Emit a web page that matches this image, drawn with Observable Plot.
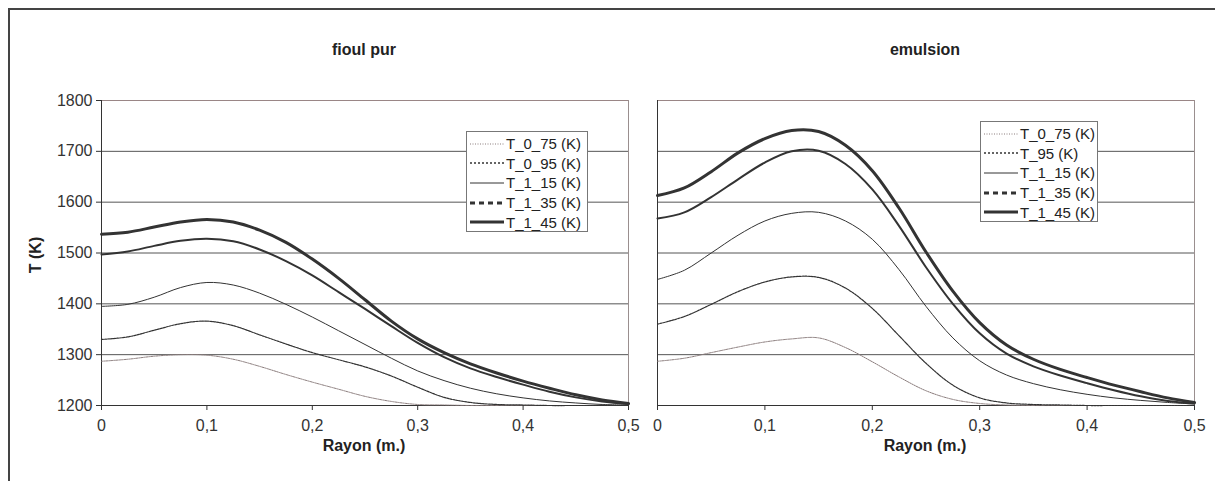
<!DOCTYPE html>
<html><head><meta charset="utf-8">
<script src="https://cdn.jsdelivr.net/npm/d3@7"></script>
<script src="https://cdn.jsdelivr.net/npm/@observablehq/plot@0.6"></script>
<style>
body{margin:0;background:#fff;overflow:hidden;}
#wrap{position:relative;width:1215px;height:481px;overflow:hidden;font-family:"Liberation Sans",Arial,sans-serif;color:#222;}
.frame{position:absolute;left:8px;top:8px;width:1240px;height:520px;border:2px solid #444;box-sizing:border-box;}
.txt{position:absolute;font-weight:bold;font-size:16px;transform:translate(-50%,-50%);white-space:nowrap;}
.chart{position:absolute;top:0;}
.legend{position:absolute;background:#fff;border:1px solid #777;box-sizing:border-box;padding:2px 0 0 3px;font-size:15px;color:#222;}
.legend .row{height:19.6px;display:flex;align-items:center;white-space:nowrap;}
.legend svg{margin-right:2px;}
</style></head>
<body><div id="wrap"><div class="frame"></div></div>
<script>
// ---- data ----
const radius = [0,0.025,0.05,0.075,0.1,0.125,0.15,0.175,0.2,0.225,0.25,0.275,0.3,0.325,0.35,0.375,0.4,0.425,0.45,0.475,0.5];
// fioul pur
const fioul_T_0_75 = [1287,1291,1297,1300,1299,1291,1277,1261,1246,1232,1218,1208,1202,1201,1200,1200,1200,1200,1200,1200,1200];
const fioul_T_0_95 = [1330,1335,1348,1361,1366,1357,1339,1321,1304,1290,1276,1258,1236,1216,1206,1202,1201,1200,1200,1200,1200];
const fioul_T_1_15 = [1395,1399,1413,1432,1442,1437,1421,1399,1374,1347,1320,1293,1268,1249,1234,1223,1215,1209,1205,1202,1201];
const fioul_T_1_35 = [1497,1503,1514,1524,1528,1523,1507,1484,1456,1423,1390,1356,1323,1295,1273,1256,1241,1227,1216,1208,1203];
const fioul_T_1_45 = [1537,1541,1551,1561,1566,1561,1545,1521,1488,1450,1408,1366,1331,1304,1282,1264,1248,1234,1221,1211,1204];
// emulsion
const emul_T_0_75 = [1287,1293,1304,1315,1325,1331,1333,1314,1286,1256,1229,1212,1204,1201,1200,1200,1200,1200,1200,1200,1200];
const emul_T_95   = [1360,1375,1399,1424,1443,1453,1452,1431,1391,1337,1283,1240,1215,1205,1202,1201,1200,1200,1200,1200,1200];
const emul_T_1_15 = [1448,1466,1500,1535,1563,1578,1580,1563,1527,1467,1395,1333,1288,1260,1243,1231,1222,1215,1210,1206,1203];
const emul_T_1_35 = [1568,1580,1610,1645,1678,1700,1701,1675,1625,1553,1472,1400,1342,1302,1277,1259,1244,1230,1218,1209,1204];
const emul_T_1_45 = [1613,1628,1660,1697,1725,1741,1739,1712,1662,1588,1502,1425,1363,1319,1291,1271,1255,1240,1227,1215,1206];

const xTicks = [0,0.1,0.2,0.3,0.4,0.5];
const yTicks = [1200,1300,1400,1500,1600,1700,1800];
const fioulNames = ["T_0_75 (K)","T_0_95 (K)","T_1_15 (K)","T_1_35 (K)","T_1_45 (K)"];
const emulNames  = ["T_0_75 (K)","T_95 (K)","T_1_15 (K)","T_1_35 (K)","T_1_45 (K)"];

// styles per series index
const styles = [
  {stroke:"#8a7c7c", w:1, dash:"1.5,1", legDash:"1,1.5", legW:1},
  {stroke:"#333", w:1.2, dash:"2,1", legDash:"2,2", legW:1.6},
  {stroke:"#333", w:1, dash:null, legDash:null, legW:1},
  {stroke:"#333", w:2, dash:null, legDash:"5,4", legW:3},
  {stroke:"#333", w:3, dash:null, legDash:null, legW:3}
];

function rows(series){
  const out=[];
  series.forEach((vals,i)=>vals.forEach((v,j)=>out.push({s:i,x:radius[j],y:v})));
  return out;
}
const fmt = d => String(d).replace(".",",");

function makePlot(series, showY, opts){
  const data = rows(series);
  const marks = [
    Plot.ruleY(yTicks,{stroke:d=>d===1800?"#9a8686":"#555",strokeWidth:1}),
    Plot.ruleX([0.5],{stroke:"#9a8f8f"}),
    Plot.ruleX([0],{stroke:"#333"}),
    Plot.ruleY([1200],{stroke:"#333"})
  ];
  styles.forEach((st,i)=>{
    marks.push(Plot.line(data.filter(d=>d.s===i),{x:"x",y:"y",stroke:st.stroke,strokeWidth:st.w,strokeDasharray:st.dash||undefined,curve:"catmull-rom"}));
  });
  marks.push(Plot.axisX(xTicks,{tickFormat:fmt,tickSize:5,tickPadding:9,stroke:"#333",fill:"#333",label:null}));
  if(showY) marks.push(Plot.axisY(yTicks,{tickFormat:d=>String(d),tickSize:5,tickPadding:4,stroke:"#333",fill:"#333",label:null}));
  return Plot.plot({
    width:opts.width, height:481,
    marginTop:100, marginBottom:76, marginLeft:opts.ml, marginRight:opts.mr,
    x:{domain:[0,0.5]}, y:{domain:[1200,1800], axis: showY ? undefined : null},
    style:{fontSize:"16px",fontFamily:"'Liberation Sans',Arial,sans-serif",background:"transparent",overflow:"visible"},
    marks
  });
}

const wrap = document.getElementById("wrap");
function place(el,left){ el.classList.add("chart"); el.style.left=left+"px"; wrap.appendChild(el); }
place(makePlot([fioul_T_0_75,fioul_T_0_95,fioul_T_1_15,fioul_T_1_35,fioul_T_1_45],true,{width:640,ml:101,mr:12}),0);
place(makePlot([emul_T_0_75,emul_T_95,emul_T_1_15,emul_T_1_35,emul_T_1_45],false,{width:585,ml:27,mr:21}),630);

function text(t,x,y,rot){
  const d=document.createElement("div"); d.className="txt"; d.textContent=t;
  d.style.left=x+"px"; d.style.top=y+"px";
  if(rot) d.style.transform="translate(-50%,-50%) rotate(-90deg)";
  wrap.appendChild(d);
}
text("fioul pur",364,50); text("emulsion",925,50);
text("Rayon (m.)",364,446); text("Rayon (m.)",925,446);
text("T (K)",36,255,true);

function legend(names,left,top,width,height){
  const L=document.createElement("div"); L.className="legend";
  Object.assign(L.style,{left:left+"px",top:top+"px",width:width+"px",height:height+"px"});
  names.forEach((n,i)=>{
    const st=styles[i];
    const r=document.createElement("div"); r.className="row";
    r.innerHTML=`<svg width="34" height="10"><line x1="0" x2="34" y1="5" y2="5" stroke="${st.stroke}" stroke-width="${st.legW}" ${st.legDash?`stroke-dasharray="${st.legDash}"`:""}/></svg><span>${n}</span>`;
    L.appendChild(r);
  });
  wrap.appendChild(L);
}
legend(fioulNames,466,131,122,101);
legend(emulNames,980,121,118,101);
</script></body></html>
